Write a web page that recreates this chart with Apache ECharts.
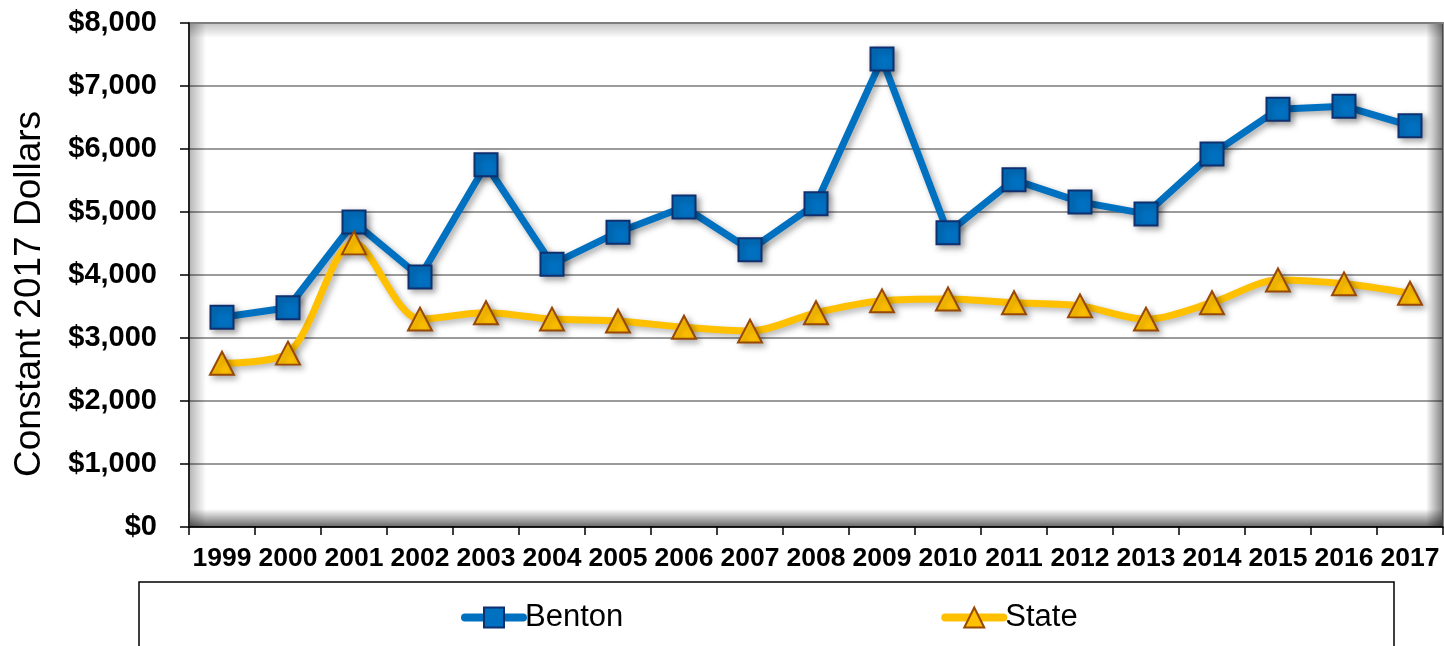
<!DOCTYPE html>
<html>
<head>
<meta charset="utf-8">
<script src="https://cdn.jsdelivr.net/npm/echarts@6/dist/echarts.min.js"></script>
<style>
html,body{margin:0;padding:0;background:#fff;}
#chart{width:1444px;height:646px;}
</style>
</head>
<body>
<div id="chart"></div>
<script>
const years = ['1999','2000','2001','2002','2003','2004','2005','2006','2007','2008','2009','2010','2011','2012','2013','2014','2015','2016','2017'];
const benton = [3330,3480,4840,3970,5750,4170,4680,5080,4400,5130,7430,4670,5510,5160,4970,5920,6630,6680,6370];
const state = [2600,2760,4510,3300,3400,3300,3270,3170,3110,3400,3590,3620,3560,3510,3300,3560,3920,3860,3710];
const yTicks = {min:0, max:8000, interval:1000};
const yTitle = 'Constant 2017 Dollars';

const FONT = '"Liberation Sans", Arial, sans-serif';
const chart = echarts.init(document.getElementById('chart'));

function grad(x0,y0,x1,y1,a0,a1){
  return {type:'linear',x:x0,y:y0,x2:x1,y2:y1,colorStops:[{offset:0,color:'rgba(0,0,0,'+a0+')'},{offset:1,color:'rgba(0,0,0,'+a1+')'}]};
}

chart.setOption({
  animation:false,
  backgroundColor:'#fff',
  grid:{left:189, top:23, right:1, bottom:119, show:true, backgroundColor:'#fff', borderColor:'#8a8a8a', borderWidth:2},
  xAxis:{
    type:'category', data:years, boundaryGap:true,
    axisLine:{show:true, lineStyle:{color:'#000', width:1.5}},
    axisTick:{show:true, length:8, inside:false, alignWithLabel:false, lineStyle:{color:'#000', width:1.5}},
    axisLabel:{fontFamily:FONT, fontWeight:'bold', fontSize:26.5, color:'#000', margin:18, interval:0},
    splitLine:{show:false}
  },
  yAxis:{
    type:'value', min:yTicks.min, max:yTicks.max, interval:yTicks.interval,
    axisLine:{show:true, lineStyle:{color:'#000', width:1.5}},
    axisTick:{show:true, length:9, lineStyle:{color:'#000', width:1.5}},
    axisLabel:{fontFamily:FONT, fontWeight:'bold', fontSize:29, color:'#000', margin:32,
      formatter:function(v){return '$'+v.toLocaleString('en-US');}},
    splitLine:{show:true, lineStyle:{color:'#7a7a7a', width:1.5}}
  },
  legend:{
    left:461, top:602, padding:0, itemGap:318,
    itemWidth:58, itemHeight:25,
    lineStyle:{width:8, cap:'round'},
    textStyle:{fontFamily:FONT, fontSize:31, color:'#000', padding:[0,0,0,-3]},
    data:['Benton','State']
  },
  graphic:[
    {type:'rect', z:1, silent:true, shape:{x:190,y:24,width:1252,height:14}, style:{fill:grad(0,0,0,1,0.22,0)}},
    {type:'rect', z:1, silent:true, shape:{x:190,y:24,width:16,height:503}, style:{fill:grad(0,0,1,0,0.28,0)}},
    {type:'rect', z:1, silent:true, shape:{x:190,y:509,width:1252,height:18}, style:{fill:grad(0,0,0,1,0,0.6)}},
    {type:'rect', z:1, silent:true, shape:{x:1426,y:24,width:17,height:503}, style:{fill:grad(0,0,1,0,0,0.5)}},
    {type:'rect', z:1, silent:true, shape:{x:139,y:582,width:1255,height:90}, style:{fill:'none', stroke:'#000', lineWidth:1.5}},
    {type:'text', z:5, silent:true, x:30, y:294, rotation:Math.PI/2,
      style:{text:yTitle, fontFamily:FONT, fontSize:37, fill:'#000', textAlign:'center', textVerticalAlign:'middle'}}
  ],
  series:[
    {
      name:'Benton', type:'line', data:benton, z:3,
      symbol:'rect', symbolSize:23,
      lineStyle:{color:'#0070C0', width:7, shadowColor:'rgba(0,0,0,0.35)', shadowBlur:6, shadowOffsetX:3, shadowOffsetY:3},
      itemStyle:{color:'#0070C0', borderColor:'#0F2F6F', borderWidth:2, shadowColor:'rgba(0,0,0,0.35)', shadowBlur:6, shadowOffsetX:3, shadowOffsetY:3}
    },
    {
      name:'State', type:'line', data:state, z:3, smooth:0.3,
      symbol:'triangle', symbolSize:[24,23],
      lineStyle:{color:'#FFC000', width:7, shadowColor:'rgba(0,0,0,0.3)', shadowBlur:6, shadowOffsetX:3, shadowOffsetY:3},
      itemStyle:{color:'#FFC000', borderColor:'#984807', borderWidth:2, shadowColor:'rgba(0,0,0,0.3)', shadowBlur:6, shadowOffsetX:3, shadowOffsetY:3}
    }
  ]
});
</script>
</body>
</html>
